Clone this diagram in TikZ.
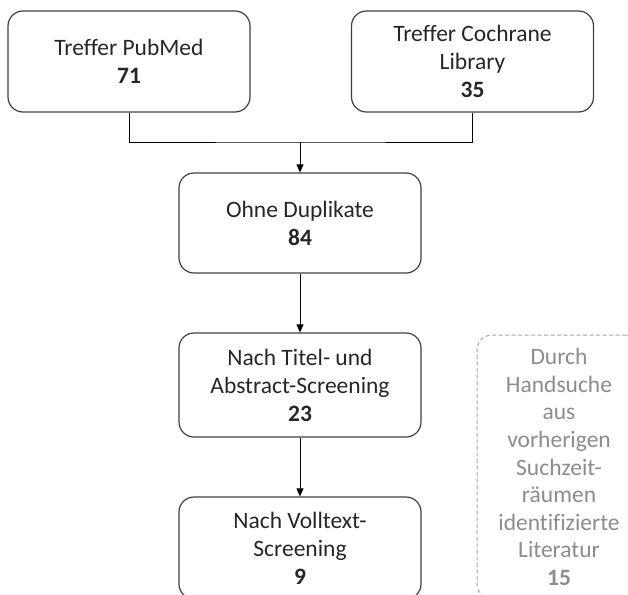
\documentclass[tikz,border=0pt]{standalone}
\usepackage{fontspec}
\setmainfont{Carlito}[Ligatures={NoCommon}]
\usepackage{xcolor}
\usepackage{tikz}
\usetikzlibrary{positioning}
\usetikzlibrary{arrows.meta}
\definecolor{boxline}{HTML}{404040}
\definecolor{boxtext}{HTML}{262626}
\definecolor{handgray}{HTML}{8C8C8C}
\definecolor{dashgray}{HTML}{A6A6A6}
\tikzset{
  stufe/.style={draw=boxline, line width=1.2pt, rounded corners=15pt, align=center,
    text=boxtext, minimum width=242pt, inner sep=0pt, font=\fontsize{23.5}{28}\selectfont},
  hand/.style={draw=dashgray, dash pattern=on 4pt off 2.5pt, line width=1pt, rounded corners=15pt,
    align=center, text=handgray, minimum width=164pt, minimum height=264pt, inner sep=0pt,
    font=\fontsize{23.5}{27.6}\selectfont},
  pfeil/.style={-{Triangle[length=8pt,width=7pt]}, line width=0.9pt}
}

\begin{document}
\begin{tikzpicture}[x=1pt,y=-1pt]
            \useasboundingbox (0,0) rectangle (628,594);
            \clip (0,0) rectangle (628,594);
            % Suchergebnisse
            \node[stufe, minimum height=101pt] (pubmed) at (129,61.5) {Treffer PubMed\\\textbf{71}};
            \node[stufe, minimum height=101pt] (cochrane) at (472.5,61.5) {Treffer Cochrane\\Library\\\textbf{35}};
            \coordinate (join) at (300,142);
            % Screening
            \node[stufe, minimum height=100pt] (dupl) at (300,223) {Ohne Duplikate\\\textbf{84}};
            \node[stufe, minimum height=104pt] (titel) at (300,385) {Nach Titel- und\\Abstract-Screening\\\textbf{23}};
            \node[stufe, minimum height=102pt] (voll) at (300,548) {Nach Volltext-\\Screening\\\textbf{9}};
            % Handsuche
            \node[hand] (handsuche) at (559,467) {Durch\\Handsuche\\aus\\vorherigen\\Suchzeit-\\räumen\\identifizierte\\Literatur\\\textbf{15}};
            \draw[line width=0.9pt] (pubmed.south) |- (join) -| (cochrane.south);
            \draw[pfeil] (join) -- (dupl.north);
            \draw[pfeil] (dupl) -- (titel);
            \draw[pfeil] (titel) -- (voll);
\end{tikzpicture}
\end{document}
